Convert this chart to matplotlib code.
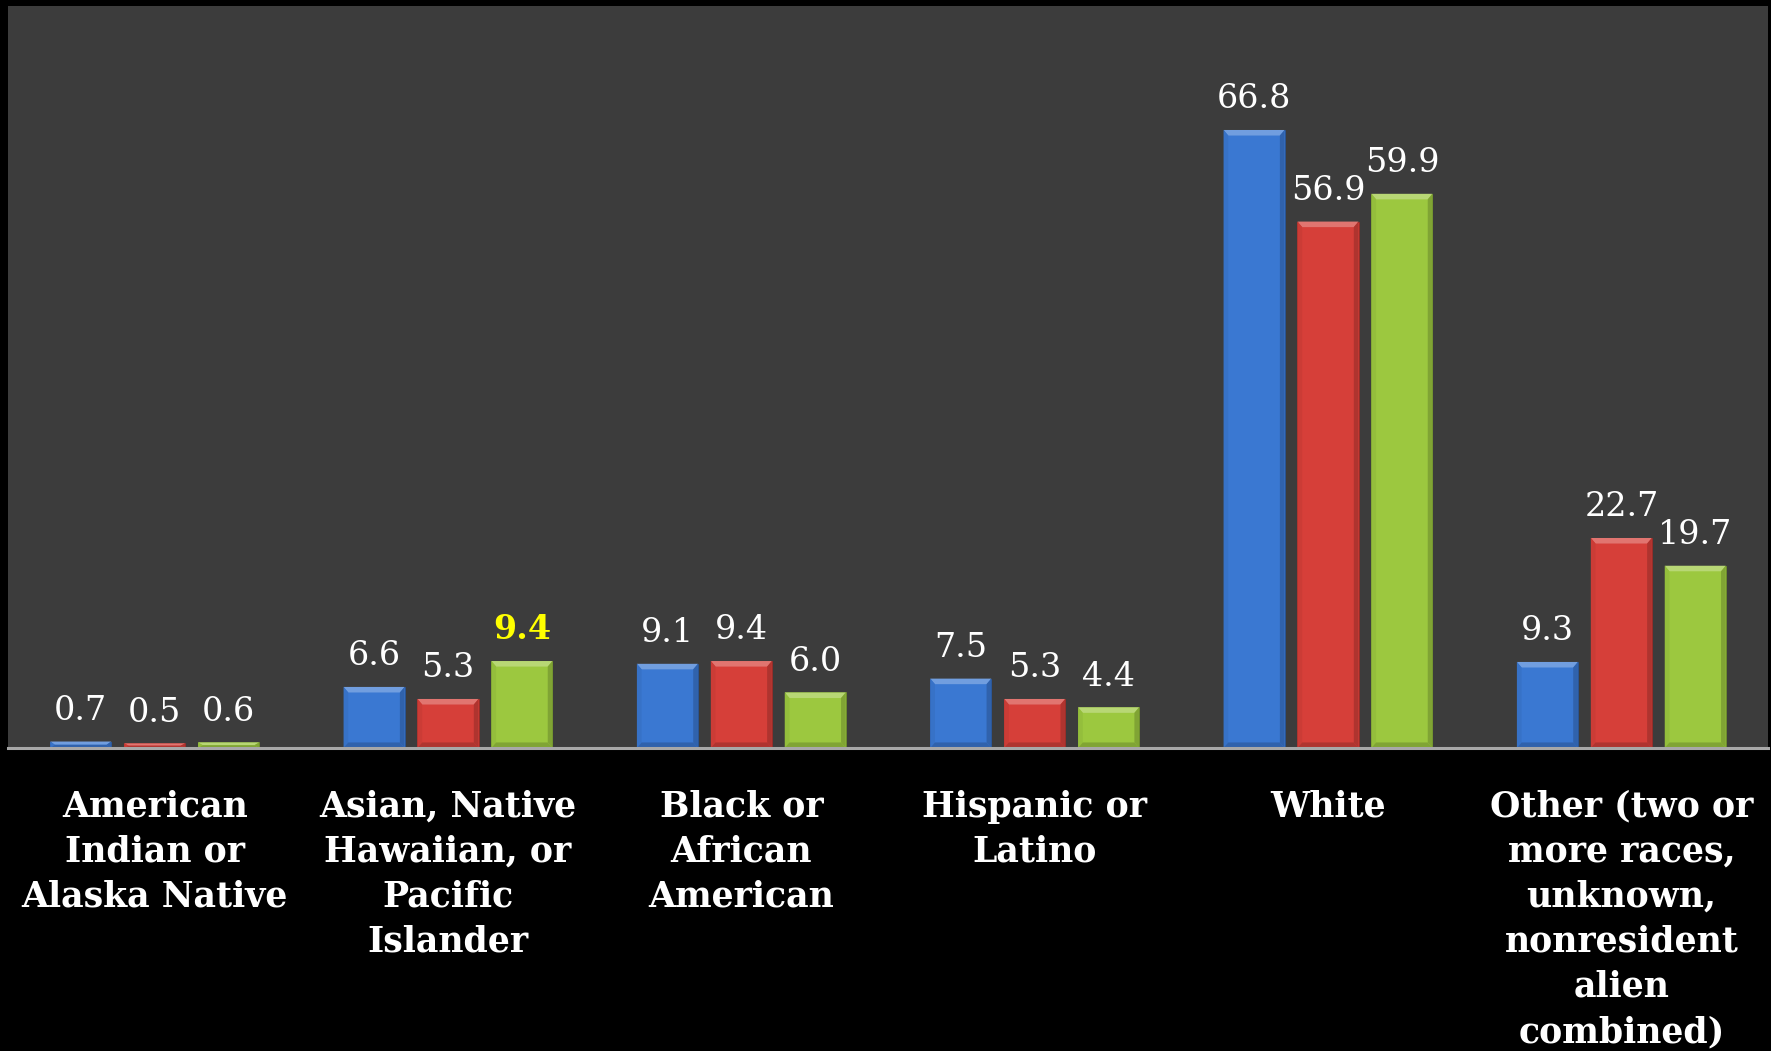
import matplotlib
matplotlib.use("Agg")
import matplotlib.pyplot as plt
from matplotlib.patches import Polygon
from matplotlib.colors import to_rgb
import numpy as np

# Share of students by race/ethnicity (percent), three groups compared
categories = [
    "American\nIndian or\nAlaska Native",
    "Asian, Native\nHawaiian, or\nPacific\nIslander",
    "Black or\nAfrican\nAmerican",
    "Hispanic or\nLatino",
    "White",
    "Other (two or\nmore races,\nunknown,\nnonresident\nalien\ncombined)",
]
series_a = [0.7, 6.6, 9.1, 7.5, 66.8, 9.3]
series_b = [0.5, 5.3, 9.4, 5.3, 56.9, 22.7]
series_c = [0.6, 9.4, 6.0, 4.4, 59.9, 19.7]
# value label emphasised in yellow: (series index, category index)
highlight = (2, 1)

series = [series_a, series_b, series_c]
colors = ["#3a78d2", "#d63f39", "#9cc83f"]

W, H = 1771, 1051
fig = plt.figure(figsize=(W / 100, H / 100), dpi=100, facecolor="black")
ax = fig.add_axes([8 / W, 1 - 748 / H, 1760 / W, 742 / H])
ax.set_facecolor("#3c3c3c")
ax.set_xlim(-0.5, len(categories) - 0.5)
ax.set_ylim(0, 80.2)
for s in ax.spines.values():
    s.set_visible(False)
ax.set_xticks([])
ax.set_yticks([])
ax.axhline(0, color="#a8a8a8", lw=2.2, zorder=5, clip_on=False)

x = np.arange(len(categories))
width = 0.208
step = 0.252


def shade(c, f):
    r, g, b = to_rgb(c)
    if f >= 0:
        return (r + (1 - r) * f, g + (1 - g) * f, b + (1 - b) * f)
    return (r * (1 + f), g * (1 + f), b * (1 + f))


def bevel(rect, color):
    x0, y0 = rect.get_x(), rect.get_y()
    w, h = rect.get_width(), rect.get_height()
    bx = 0.016
    by = min(0.6, h / 2)
    x1, y1 = x0 + w, y0 + h
    polys = [
        ([(x0, y1), (x1, y1), (x1 - bx, y1 - by), (x0 + bx, y1 - by)], shade(color, 0.28)),
        ([(x0, y0), (x0, y1), (x0 + bx, y1 - by), (x0 + bx, y0 + by)], shade(color, -0.05)),
        ([(x1, y0), (x1, y1), (x1 - bx, y1 - by), (x1 - bx, y0 + by)], shade(color, -0.18)),
        ([(x0, y0), (x1, y0), (x1 - bx, y0 + by), (x0 + bx, y0 + by)], shade(color, -0.18)),
    ]
    for pts, c in polys:
        ax.add_patch(Polygon(pts, closed=True, facecolor=c, edgecolor="none", zorder=3))


for i, (vals, col) in enumerate(zip(series, colors)):
    bars = ax.bar(x + (i - 1) * step, vals, width=width, color=col,
                  edgecolor=shade(col, -0.3), linewidth=0.6, zorder=2)
    for j, rect in enumerate(bars):
        bevel(rect, col)
        hl = (i, j) == highlight
        ax.annotate(f"{vals[j]:.1f}",
                    (rect.get_x() + rect.get_width() / 2, rect.get_height()),
                    xytext=(0, 10.5), textcoords="offset points",
                    ha="center", va="bottom",
                    fontsize=24, family="DejaVu Serif",
                    fontweight="bold" if hl else "normal",
                    color="#ffff00" if hl else "white", zorder=6)

for xi, lab in zip(x, categories):
    ax.text(xi, -4.5, lab, ha="center", va="top", color="white",
            fontsize=25, family="DejaVu Serif", fontweight="bold",
            linespacing=1.41, clip_on=False)

fig.savefig("out.png", dpi=100, facecolor="black")
